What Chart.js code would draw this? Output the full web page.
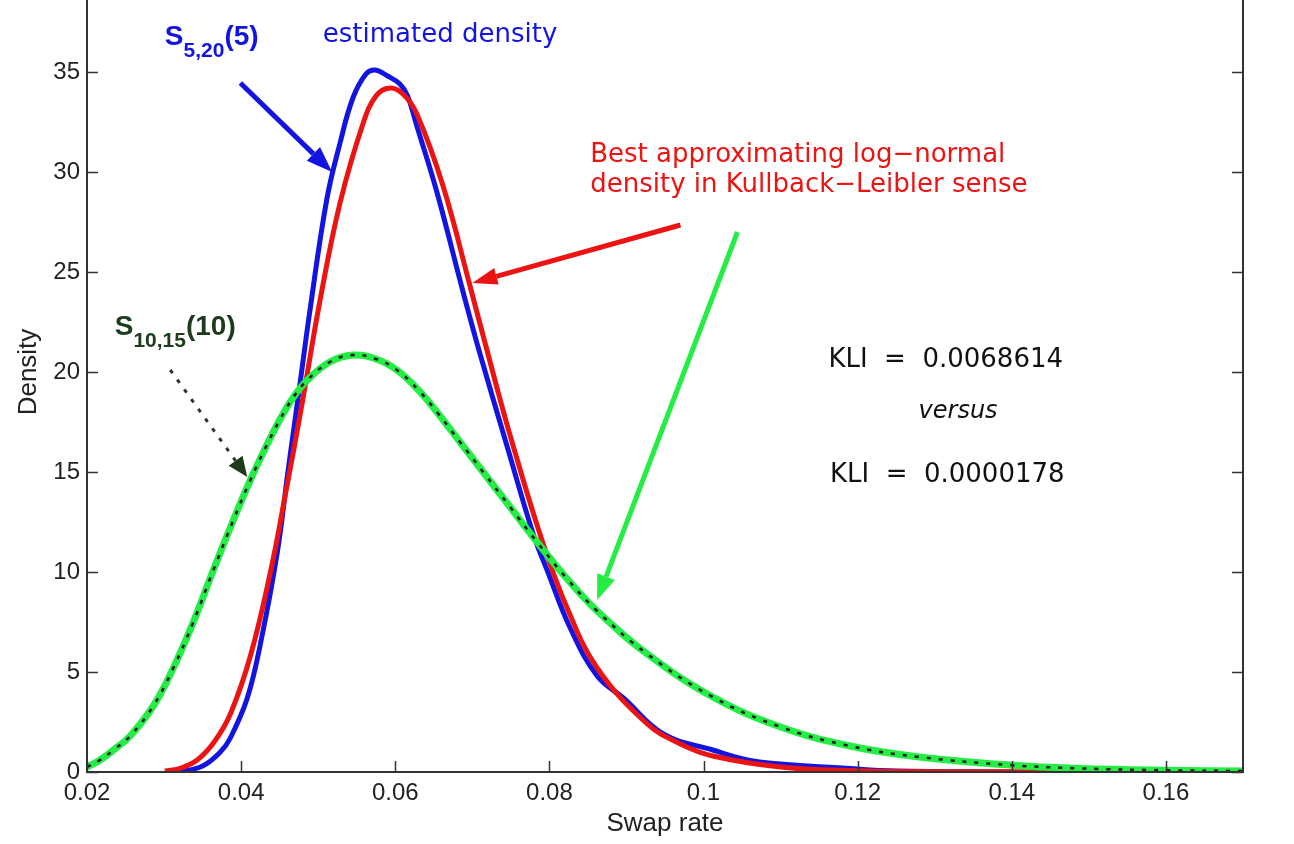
<!DOCTYPE html>
<html>
<head>
<meta charset="utf-8">
<script src="https://cdn.jsdelivr.net/npm/chart.js@4.4.1/dist/chart.umd.min.js"></script>
<style>
  html, body { margin: 0; padding: 0; background: #fff; overflow: hidden; }
  #wrap { position: relative; width: 1294px; height: 844px; overflow: hidden; }
  #swap { position: absolute; left: 0; top: -28px; }
</style>
</head>
<body>
<div id="wrap"><canvas id="swap" width="1294" height="872"></canvas></div>
<script>
// S10,15(10) simulated density (green, dotted overlay)
const greenRate = [0.020, 0.0217, 0.0236, 0.0256, 0.0286, 0.0312, 0.0338, 0.0364, 0.0390, 0.0412,
  0.0434, 0.0450, 0.0468, 0.0486, 0.0515, 0.0545, 0.0575, 0.0602, 0.0630, 0.0654,
  0.0684, 0.0714, 0.0750, 0.0784, 0.0822, 0.0862, 0.0927, 0.1012, 0.1100, 0.1190,
  0.1280, 0.1400, 0.1490, 0.1600, 0.1700];
const greenDensity = [0.25, 0.6, 1.15, 1.8, 3.3, 5.2, 7.5, 10.1, 12.6, 14.6,
  16.4, 17.6, 18.75, 19.6, 20.5, 20.85, 20.65, 20.1, 19.1, 18.0,
  16.5, 15.0, 13.2, 11.5, 9.7, 8.05, 5.9, 3.75, 2.25, 1.3,
  0.75, 0.34, 0.18, 0.09, 0.05];

// best approximating log-normal (red)
const redRate = [0.0301, 0.0322, 0.0343, 0.0365, 0.0386, 0.0412, 0.0438, 0.0458, 0.0479, 0.0502,
  0.0528, 0.0558, 0.0575, 0.0593, 0.0610, 0.0628, 0.0662, 0.0697, 0.0732, 0.0753,
  0.0792, 0.0823, 0.0862, 0.0927, 0.0970, 0.1012, 0.1100, 0.1200, 0.1400, 0.1600];
const redDensity = [0.05, 0.2, 0.6, 1.5, 2.9, 5.8, 10.0, 14.0, 18.4, 23.5,
  28.4, 32.4, 33.8, 34.2, 33.9, 32.9, 29.3, 24.3, 19.2, 16.3,
  11.4, 8.2, 5.2, 2.4, 1.4, 0.8, 0.25, 0.06, 0.01, 0];

// S5,20(5) estimated density (blue)
const blueRate = [0.0321, 0.0350, 0.0373, 0.0386, 0.0408, 0.0425, 0.0447, 0.0461, 0.0476, 0.0489,
  0.0511, 0.0528, 0.0545, 0.0562, 0.0574, 0.0590, 0.0606, 0.0616, 0.0628, 0.0654,
  0.0688, 0.0710, 0.0745, 0.0779, 0.0797, 0.0827, 0.0862, 0.0896, 0.0948, 0.1012,
  0.1057, 0.1100, 0.1180, 0.1250, 0.1400];
const blueDensity = [0, 0.3, 1.0, 1.7, 3.7, 6.4, 11.0, 15.1, 19.3, 23.0,
  28.6, 31.4, 33.7, 34.9, 35.1, 34.8, 34.4, 33.8, 32.3, 29.0,
  24.0, 20.9, 16.3, 11.9, 10.1, 7.2, 4.8, 3.7, 1.9, 1.1,
  0.6, 0.4, 0.2, 0.05, 0];

const xTicks = [0.02, 0.04, 0.06, 0.08, 0.1, 0.12, 0.14, 0.16];
const yTicks = [0, 5, 10, 15, 20, 25, 30, 35, 40];

const BLUE = '#1414e0';
const RED = '#ec1313';
const GREEN = '#26ec46';
const DKGREEN = '#1d3b1d';
const AXIS = '#333';
const FONT = "'DejaVu Sans', sans-serif";
const ARIAL = "'Liberation Sans', Arial, sans-serif";

const toPoints = (xs, ys) => xs.map((v, i) => ({ x: v, y: ys[i] }));

// arrow with filled head, in pixel space
function arrow(ctx, x0, y0, x1, y1, color, width, hl, hw, dash, headColor) {
  const ang = Math.atan2(y1 - y0, x1 - x0);
  const bx = x1 - hl * Math.cos(ang), by = y1 - hl * Math.sin(ang);
  ctx.save();
  ctx.strokeStyle = color;
  ctx.lineWidth = width;
  ctx.lineCap = 'butt';
  ctx.setLineDash(dash || []);
  ctx.beginPath();
  ctx.moveTo(x0, y0);
  ctx.lineTo(bx, by);
  ctx.stroke();
  ctx.setLineDash([]);
  ctx.fillStyle = headColor || color;
  ctx.beginPath();
  ctx.moveTo(x1, y1);
  ctx.lineTo(bx + hw / 2 * Math.sin(ang), by - hw / 2 * Math.cos(ang));
  ctx.lineTo(bx - hw / 2 * Math.sin(ang), by + hw / 2 * Math.cos(ang));
  ctx.closePath();
  ctx.fill();
  ctx.restore();
}

// text made of runs (for subscripts)
function runs(ctx, x, y, parts, color) {
  ctx.save();
  ctx.fillStyle = color;
  ctx.textAlign = 'left';
  ctx.textBaseline = 'alphabetic';
  let cx = x;
  for (const p of parts) {
    ctx.font = p.font;
    ctx.fillText(p.text, cx, y + (p.dy || 0));
    cx += ctx.measureText(p.text).width;
  }
  ctx.restore();
}

const BOLD = 'bold 28px ' + ARIAL;
const SUB = 'bold 21px ' + ARIAL;

// annotations, positioned in data units
const labels = [
  { x: 0.0301, y: 36.35, color: BLUE, parts: [{ text: 'S', font: BOLD }, { text: '5,20', font: SUB, dy: 12 }, { text: '(5)', font: BOLD }] },
  { x: 0.0506, y: 36.5, color: BLUE, parts: [{ text: 'estimated density', font: '26px ' + FONT }] },
  { x: 0.0853, y: 30.5, color: RED, parts: [{ text: 'Best approximating log\u2212normal', font: '26px ' + FONT }] },
  { x: 0.0853, y: 29.0, color: RED, parts: [{ text: 'density in Kullback\u2212Leibler sense', font: '26px ' + FONT }] },
  { x: 0.0236, y: 21.85, color: DKGREEN, parts: [{ text: 'S', font: BOLD }, { text: '10,15', font: SUB, dy: 12 }, { text: '(10)', font: BOLD }] },
  { x: 0.1162, y: 20.25, color: '#111', parts: [{ text: 'KLI  =  0.0068614', font: '26px ' + FONT }] },
  { x: 0.1279, y: 17.7, color: '#111', parts: [{ text: 'versus', font: 'italic 24px ' + FONT }] },
  { x: 0.1164, y: 14.5, color: '#111', parts: [{ text: 'KLI  =  0.0000178', font: '26px ' + FONT }] }
];

const arrows = [
  { from: [0.0399, 34.45], to: [0.0518, 30.0], color: BLUE, width: 5, hl: 26, hw: 19 },
  { from: [0.0970, 27.35], to: [0.0700, 24.45], color: RED, width: 5, hl: 25, hw: 17 },
  { from: [0.1044, 27.0], to: [0.0862, 8.6], color: GREEN, width: 5, hl: 25, hw: 19 },
  { from: [0.0308, 20.1], to: [0.0408, 14.75], color: '#333', width: 3, hl: 20, hw: 17, dash: [4, 8], head: DKGREEN }
];

const framePlugin = {
  id: 'frame',
  afterDraw(chart) {
    const { ctx, chartArea: a, scales: { x, y } } = chart;
    ctx.save();
    ctx.strokeStyle = AXIS;
    ctx.lineWidth = 2;
    ctx.beginPath();
    ctx.moveTo(a.left, a.top); ctx.lineTo(a.left, a.bottom);
    ctx.lineTo(a.right, a.bottom); ctx.lineTo(a.right, a.top);
    ctx.lineTo(a.left, a.top);
    ctx.stroke();
    ctx.lineWidth = 1.5;
    ctx.beginPath();
    y.ticks.forEach(t => {
      const py = Math.round(y.getPixelForValue(t.value)) + 0.5;
      ctx.moveTo(a.left, py); ctx.lineTo(a.left + 11, py);
      ctx.moveTo(a.right, py); ctx.lineTo(a.right - 11, py);
    });
    x.ticks.forEach(t => {
      const px = Math.round(x.getPixelForValue(t.value)) + 0.5;
      ctx.moveTo(px, a.bottom); ctx.lineTo(px, a.bottom - 11);
      ctx.moveTo(px, a.top); ctx.lineTo(px, a.top + 11);
    });
    ctx.stroke();
    ctx.restore();

    arrows.forEach(ar => {
      arrow(ctx, x.getPixelForValue(ar.from[0]), y.getPixelForValue(ar.from[1]),
        x.getPixelForValue(ar.to[0]), y.getPixelForValue(ar.to[1]),
        ar.color, ar.width, ar.hl, ar.hw, ar.dash, ar.head);
    });
    labels.forEach(l => {
      runs(ctx, x.getPixelForValue(l.x), y.getPixelForValue(l.y), l.parts, l.color);
    });
  }
};

const line = (data, color, width, extra) => Object.assign({
  data: data,
  borderColor: color,
  borderWidth: width,
  pointRadius: 0,
  fill: false,
  tension: 0.4
}, extra || {});

const keepTicks = list => scale => {
  scale.ticks = list.map(v => ({ value: v }));
};

new Chart(document.getElementById('swap'), {
  type: 'line',
  data: {
    datasets: [
      line(toPoints(greenRate, greenDensity), '#1a1a1a', 2.5, { borderDash: [4, 8], label: 'S10,15(10) dots' }),
      line(toPoints(greenRate, greenDensity), GREEN, 7, { label: 'S10,15(10)' }),
      line(toPoints(redRate, redDensity), RED, 5, { label: 'log-normal' }),
      line(toPoints(blueRate, blueDensity), BLUE, 5, { label: 'S5,20(5)' })
    ]
  },
  options: {
    responsive: false,
    animation: false,
    events: [],
    layout: { padding: { top: 0, left: 0, right: 51, bottom: 0 } },
    plugins: {
      legend: { display: false },
      tooltip: { enabled: false }
    },
    scales: {
      x: {
        type: 'linear',
        min: 0.02,
        max: 0.17,
        border: { display: false },
        grid: { display: false, drawTicks: false },
        afterBuildTicks: keepTicks(xTicks),
        afterFit: s => { s.height = 72; s.paddingLeft = 0; s.paddingRight = 0; },
        ticks: {
          padding: 7,
          color: '#222',
          font: { family: ARIAL, size: 24 },
          maxRotation: 0,
          autoSkip: false,
          callback: v => Number(v.toFixed(2)).toString()
        },
        title: {
          display: true,
          text: 'Swap rate',
          color: '#222',
          font: { family: ARIAL, size: 26 },
          padding: { top: 0, bottom: 5 }
        }
      },
      y: {
        min: 0,
        max: 40,
        border: { display: false },
        grid: { display: false, drawTicks: false },
        afterBuildTicks: keepTicks(yTicks),
        afterFit: s => { s.width = 87; s.paddingTop = 0; s.paddingBottom = 0; },
        ticks: {
          padding: 7,
          color: '#222',
          font: { family: ARIAL, size: 24 }
        },
        title: {
          display: true,
          text: 'Density',
          color: '#222',
          font: { family: ARIAL, size: 26 },
          padding: { top: 13, bottom: 0 }
        }
      }
    }
  },
  plugins: [framePlugin]
});
</script>
</body>
</html>
